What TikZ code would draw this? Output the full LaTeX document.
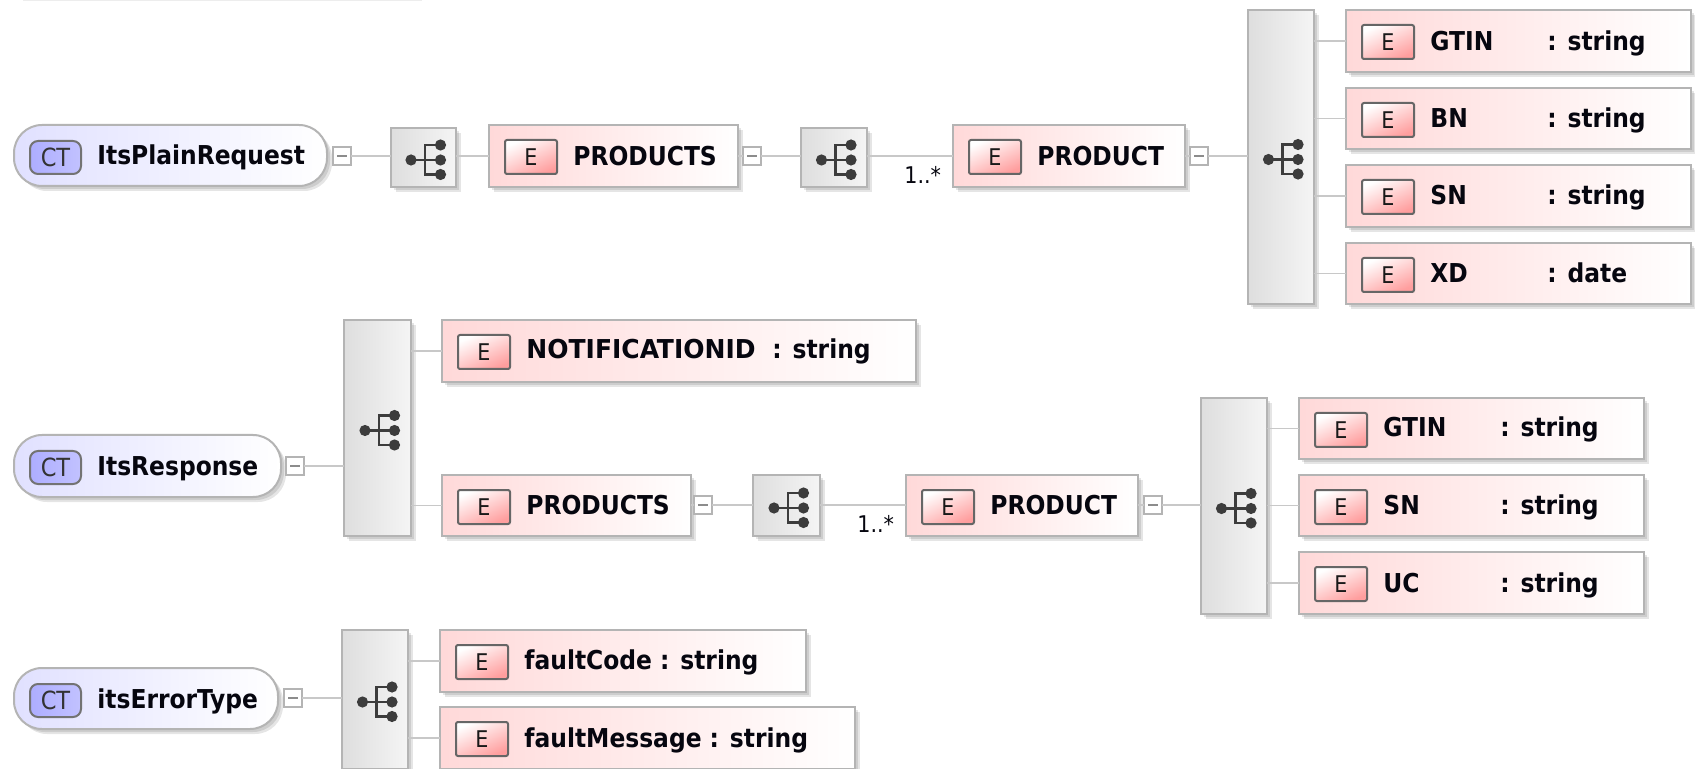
\documentclass[tikz,border=0pt]{standalone}
\usepackage{fontspec}
\usepackage{graphicx}
\setmainfont{DejaVu Sans Condensed}
\usetikzlibrary{shadows}
\definecolor{edgegrey}{HTML}{B4B4B4}
\definecolor{linkgrey}{HTML}{C8C8C8}
\definecolor{dotgrey}{HTML}{3C3C3C}
\definecolor{inkblue}{HTML}{06060F}
\tikzset{
  x=0.5pt,y=-0.5pt,
  softshadow/.style={general shadow={fill=black,opacity=.10,shadow xshift=1.5pt,shadow yshift=-1.5pt},
                     general shadow={fill=black,opacity=.10,shadow xshift=2.5pt,shadow yshift=-2.5pt}},
  base/.style={draw=edgegrey,line width=1pt,anchor=north west,inner sep=0pt,outer sep=0pt,softshadow},
  ebox/.style={base,rectangle,left color=red!15,right color=white},
  ctbox/.style={base,rectangle,rounded corners=14pt,left color=blue!12,right color=white},
  seqbox/.style={base,rectangle,left color=black!13,right color=black!4},
  collapse/.style={draw=edgegrey,line width=.8pt,fill=white,anchor=center,minimum width=9pt,minimum height=9pt,inner sep=0pt,outer sep=0pt},
  badge/.style={draw=black!60,line width=1pt,rounded corners=1pt,top color=white,bottom color=red!38,shading angle=25,
                minimum width=26pt,minimum height=17pt,inner sep=0pt,anchor=north west,font=\fontsize{11.5pt}{12pt}\selectfont,text=black!90},
  ctbadge/.style={draw=black!55,line width=1pt,rounded corners=4pt,left color=blue!32,right color=blue!24,
                minimum width=25.5pt,minimum height=16.5pt,inner sep=0pt,anchor=north west,font=\fontsize{12.5pt}{12pt}\selectfont,text=black!80},
  label/.style={anchor=base west,inner sep=0pt,yshift=-.5pt,font=\fontsize{13pt}{15pt}\bfseries\selectfont,text=inkblue},
  mult/.style={anchor=base west,inner sep=0pt,yshift=-.5pt,font=\fontsize{11.5pt}{13pt}\selectfont,text=inkblue},
  link/.style={draw=linkgrey,line width=.8pt},
  clipped/.style={fill=black!7,draw=none},
}
% name, x1, y1, x2, y2
\newcommand{\EBox}[5]{%
  \node[ebox,minimum width={(#4-#2)*0.5pt},minimum height={(#5-#3)*0.5pt}] (#1) at (#2,#3) {};
  \node[badge] (#1b) at (#2+15,#3+14) {E};
}
\newcommand{\Txt}[4]{\node[label] (#1) at (#2,#3) {#4};}
\newcommand{\Seq}[5]{%
  \node[seqbox,minimum width={(#4-#2)*0.5pt},minimum height={(#5-#3)*0.5pt}] (#1) at (#2,#3) {};
  \begin{scope}[shift={(#1.center)}]
    \draw[dotgrey,line width=1.2pt] (-12.5,2.5) -- (17,2.5) (17,-12.5) -- (1.5,-12.5) -- (1.5,17) -- (17,17);
    \fill[dotgrey] (-12.5,2.5) circle (2.8pt) (17,-12.5) circle (2.8pt) (17,2.5) circle (2.8pt) (17,17) circle (2.8pt);
  \end{scope}
}
\newcommand{\CT}[6]{%
  \node[ctbox,minimum width={(#4-#2)*0.5pt},minimum height={(#5-#3)*0.5pt}] (#1) at (#2,#3) {};
  \node[ctbadge] (#1b) at (#2+15,#3+15) {CT};
  \node[label] (#1t) at (#2+83,#3+39) {#6};
}
\newcommand{\Minus}[3]{%
  \node[collapse] (#1) at (#2,#3) {};
  \draw[black!45,line width=.6pt] ([xshift=-2.5pt]#1.center) -- ([xshift=2.5pt]#1.center);
}
\begin{document}
\begin{tikzpicture}
\useasboundingbox (0,0) rectangle (1695,769);
\fill[white] (0,0) rectangle (1695,769);
\fill[clipped] (23,0) rectangle (422,1.5);

% row 1
\CT{ct1}{14}{125}{327}{186}{ItsPlainRequest}
\Minus{m1}{342}{156}
\Seq{s1}{391}{128}{456}{187}
\EBox{e1}{489}{125}{738}{187}
\Txt{e1t}{573}{165}{PRODUCTS}
\Minus{m2}{752}{156}
\Seq{s2}{801}{128}{867}{187}
\EBox{e2}{953}{125}{1185}{187}
\Txt{e2t}{1037}{165}{PRODUCT}
\Minus{m3}{1199}{156}
\Seq{s3}{1248}{10}{1314}{304}
\EBox{a1}{1346}{10}{1691}{72}
\Txt{a1t}{1430}{50}{GTIN}\Txt{a1u}{1547}{50}{: string}
\EBox{a2}{1346}{88}{1691}{149}
\Txt{a2t}{1430}{127}{BN}\Txt{a2u}{1547}{127}{: string}
\EBox{a3}{1346}{165}{1691}{227}
\Txt{a3t}{1430}{204}{SN}\Txt{a3u}{1547}{204}{: string}
\EBox{a4}{1346}{243}{1691}{304}
\Txt{a4t}{1430}{282}{XD}\Txt{a4u}{1547}{282}{: date}
\node[mult] (n1) at (904,183) {1..*};
\draw[link] (m1.east) -- (s1.west |- m1);
\draw[link] (s1.east |- m1) -- (e1.west |- m1);
\draw[link] (e1.east |- m1) -- (m2.west);
\draw[link] (m2.east) -- (s2.west |- m2);
\draw[link] (s2.east |- m2) -- (e2.west |- m2);
\draw[link] (e2.east |- m3) -- (m3.west);
\draw[link] (m3.east) -- (s3.west |- m3);
\foreach \t in {a1,a2,a3,a4} \draw[link] (s3.east |- \t) -- (\t.west);

% row 2
\CT{ct2}{14}{435}{281}{497}{ItsResponse}
\Minus{m4}{295}{466}
\Seq{s4}{344}{320}{411}{536}
\EBox{b1}{442}{320}{916}{382}
\Txt{b1t}{526}{358}{\scalebox{1.07}[1]{NOTIFICATIONID}}\Txt{b1u}{772}{358}{: string}
\EBox{b2}{442}{475}{691}{536}
\Txt{b2t}{526}{513}{PRODUCTS}
\Minus{m5}{703}{505}
\Seq{s5}{753}{475}{820}{536}
\EBox{b3}{906}{475}{1138}{536}
\Txt{b3t}{990}{513}{PRODUCT}
\Minus{m6}{1153}{505}
\Seq{s6}{1201}{398}{1267}{614}
\EBox{d1}{1299}{398}{1644}{459}
\Txt{d1t}{1383}{436}{GTIN}\Txt{d1u}{1500}{436}{: string}
\EBox{d2}{1299}{475}{1644}{536}
\Txt{d2t}{1383}{513}{SN}\Txt{d2u}{1500}{513}{: string}
\EBox{d3}{1299}{552}{1644}{614}
\Txt{d3t}{1383}{591}{UC}\Txt{d3u}{1500}{591}{: string}
\node[mult] (n2) at (857,531) {1..*};
\draw[link] (m4.east) -- (s4.west |- m4);
\draw[link] (s4.east |- b1) -- (b1.west);
\draw[link] (s4.east |- b2) -- (b2.west);
\draw[link] (b2.east |- m5) -- (m5.west);
\draw[link] (m5.east) -- (s5.west |- m5);
\draw[link] (s5.east |- m5) -- (b3.west |- m5);
\draw[link] (b3.east |- m6) -- (m6.west);
\draw[link] (m6.east) -- (s6.west |- m6);
\foreach \t in {d1,d2,d3} \draw[link] (s6.east |- \t) -- (\t.west);

% row 3
\CT{ct3}{14}{668}{278}{729}{itsErrorType}
\Minus{m7}{293}{698}
\Seq{s7}{342}{630}{408}{769}
\EBox{f1}{440}{630}{806}{692}
\Txt{f1t}{524}{668}{faultCode : string}
\EBox{f2}{440}{707}{855}{769}
\Txt{f2t}{524}{746}{faultMessage : string}
\draw[link] (m7.east) -- (s7.west |- m7);
\draw[link] (s7.east |- f1) -- (f1.west);
\draw[link] (s7.east |- f2) -- (f2.west);
\end{tikzpicture}
\end{document}
